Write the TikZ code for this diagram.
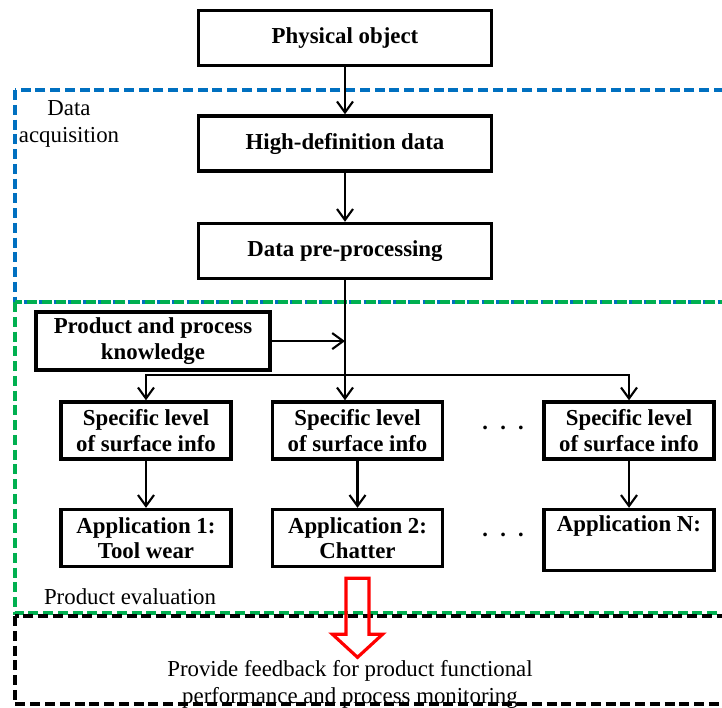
\documentclass[tikz,border=0pt]{standalone}
\usepackage{fontspec}
\setmainfont{Liberation Serif}
\usepackage{tikz}
\usetikzlibrary{arrows,arrows.meta,shapes}
\usetikzlibrary{positioning}
\definecolor{acqblue}{RGB}{0,112,192}
\definecolor{evalgreen}{RGB}{0,176,80}
\tikzstyle{flow} = [line width=1.2pt,-{Straight Barb[length=2.2mm,width=3.2mm]}]
\tikzstyle{stage} = [draw, line width=2pt, minimum width=5.86cm, minimum height=1.1cm, align=center, font=\fontsize{13}{14.5}\selectfont\bfseries]
\tikzstyle{level} = [stage, minimum width=3.4cm, minimum height=1.14cm]
\tikzstyle{frame} = [line width=2.2pt, dash pattern=on 0.2cm off 0.095cm]
\tikzstyle{tag} = [align=center, font=\fontsize{13}{15.4}\selectfont]
\tikzstyle{gap} = [font=\fontsize{13}{14.5}\selectfont\bfseries]

\begin{document}
\begin{tikzpicture}
				\useasboundingbox (0,0) rectangle (14.44,-14.14);
			
				% Dashed stage frames
				\draw[frame, acqblue] (0.3,-1.8) rectangle (14.8,-6.04);
				\draw[frame, evalgreen] (0.3,-6.04) rectangle (14.8,-12.26);
				\draw[frame, black] (0.3,-12.32) rectangle (14.8,-14.08);
				\node[tag] (acq) at (1.38,-2.48) {Data\\acquisition};
				\node[tag] (evl) at (2.6,-11.94) {Product evaluation};
				
				% Acquisition chain
				\node[stage] (phys) at (6.9,-0.76) {Physical object};
				\node[stage, below = 0.94 cm of phys] (hdd) {High-definition data};
				\node[stage, below = 0.98 cm of hdd] (pre) {Data pre-processing};
				
				% Knowledge input
				\node[stage, minimum width = 4.68cm, anchor = north east] (know)
				at ([xshift = 1.5cm, yshift = -0.6cm]pre.south west) {Product and process\\knowledge};
				
				% Levels of surface info
				\node[level, below = 2.4 cm of pre, xshift = 0.25cm] (spec2) {Specific level\\of surface info};
				\node[level, left = 0.76 cm of spec2] (spec1) {Specific level\\of surface info};
				\node[level, right = 1.96 cm of spec2] (spec3) {Specific level\\of surface info};
				\node[gap, right = 0.62 cm of spec2] (dotsA) {·\hspace{0.45em}·\hspace{0.45em}·};
				
				% Applications
				\node[level, below = 0.94 cm of spec1] (app1) {Application 1:\\Tool wear};
				\node[level, below = 0.94 cm of spec2] (app2) {Application 2:\\Chatter};
				\node[level, below = 0.94 cm of spec3] (app3) {Application N:\\\strut};
				\node[gap, right = 0.62 cm of app2] (dotsB) {·\hspace{0.45em}·\hspace{0.45em}·};
				
				% Arrows
				\draw[flow] (phys) -- (hdd);
				\draw[flow] (hdd) -- (pre);
				\draw[flow] (know.east) -- (know.east -| pre.south);
				\path (spec2.north -| pre.south) ++(0,0.5) coordinate (split);
				\draw[flow] (pre.south) -- (pre.south |- spec2.north);
				\draw[flow] (split) -| (spec1.north);
				\draw[flow] (split) -| (spec3.north);
				\foreach \i in {1,2,3}
					\draw[flow] (spec\i) -- (app\i);
				
				% Feedback
				\draw[red, line width = 1.8pt, line join = miter]
				([xshift = -0.23cm, yshift = -0.2cm]app2.south) -- ++(0,-1.12) -- ++(-0.27,0)
				-- ++(0.5,-0.46) -- ++(0.5,0.46) -- ++(-0.27,0) -- ++(0,1.12) -- cycle;
				\node[tag] (fb) at (7.0,-13.68) {Provide feedback for product functional\\performance and process monitoring};
				
\end{tikzpicture}
\end{document}
